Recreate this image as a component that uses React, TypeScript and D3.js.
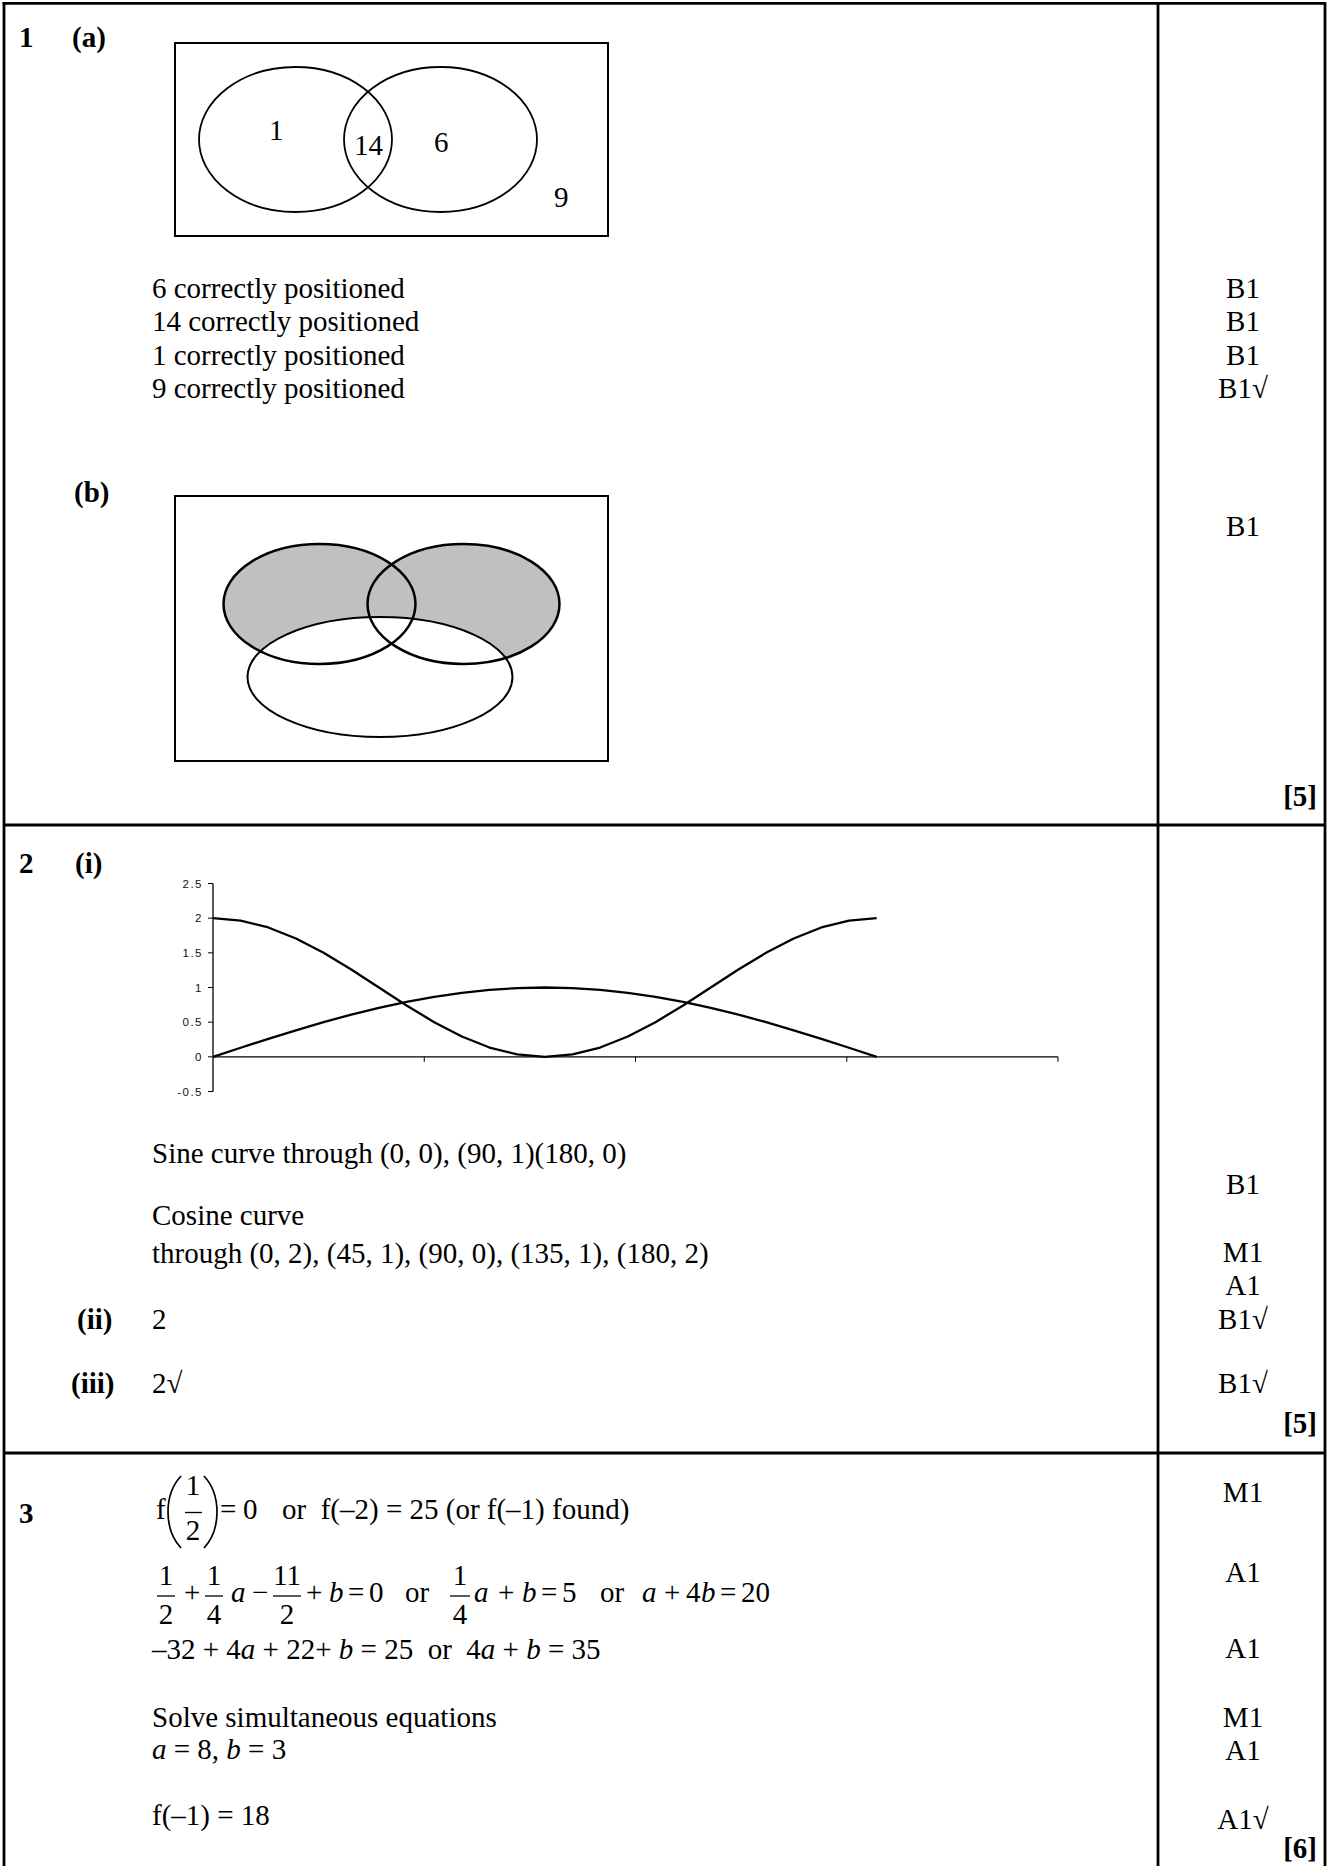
import React, { useEffect } from "react";
import * as d3 from "d3";

const SERIF = "'Liberation Serif', 'Times New Roman', Times, serif";
const SANS = "'Liberation Sans', Arial, Helvetica, sans-serif";

// ---------- Question 2 chart data (angles in degrees, plotted on a radian axis) ----------
const angleDeg = [0, 7.5, 15, 22.5, 30, 37.5, 45, 52.5, 60, 67.5, 75, 82.5, 90, 97.5, 105, 112.5, 120, 127.5, 135, 142.5, 150, 157.5, 165, 172.5, 180];
const sineValues = [0, 0.131, 0.259, 0.383, 0.5, 0.609, 0.707, 0.793, 0.866, 0.924, 0.966, 0.991, 1, 0.991, 0.966, 0.924, 0.866, 0.793, 0.707, 0.609, 0.5, 0.383, 0.259, 0.131, 0];
const cosineValues = [2, 1.966, 1.866, 1.707, 1.5, 1.259, 1, 0.741, 0.5, 0.293, 0.134, 0.034, 0, 0.034, 0.134, 0.293, 0.5, 0.741, 1, 1.259, 1.5, 1.707, 1.866, 1.966, 2];
const yTickValues = [2.5, 2, 1.5, 1, 0.5, 0, -0.5];
const yTickLabels = ["2.5", "2", "1.5", "1", "0.5", "0", "-0.5"];
const xTickRadians = [1, 2, 3, 4];

// ---------- Question 1 text ----------
const vennLabelsA = ["1", "14", "6", "9"];
const q1aLines = ["6 correctly positioned", "14 correctly positioned", "1 correctly positioned", "9 correctly positioned"];
const q1aMarks = ["B1", "B1", "B1", "B1\u221A"];
const q1bMarks = ["B1"];

// ---------- Question 2 text ----------
const q2Lines = ["Sine curve through (0, 0), (90, 1)(180, 0)", "Cosine curve", "through (0, 2), (45, 1), (90, 0), (135, 1), (180, 2)"];
const q2Marks = ["B1", "M1", "A1", "B1\u221A", "B1\u221A"];

// ---------- Question 3 marks ----------
const q3Marks = ["M1", "A1", "A1", "M1", "A1", "A1\u221A"];

// ---------- layout ----------
const MARK_X = 1243;
const vennLabelPosA = [
  [269, 140],
  [354, 155],
  [434, 152],
  [554, 207],
];
const q1aLineY = [298, 331, 365, 398];
const q2LineY = [1163, 1225, 1263];
const q2MarkY = [1194, 1262, 1295, 1329, 1393];
const q3MarkY = [1502, 1582, 1658, 1727, 1760, 1829];

type Piece = { k: "frac"; cx: number; w: number; n: string; d: string } | { k: "t" | "i"; x: number; s: string };
const line2: Piece[] = [
  { k: "frac", cx: 166, w: 18, n: "1", d: "2" },
  { k: "t", x: 184, s: "+" },
  { k: "frac", cx: 214, w: 18, n: "1", d: "4" },
  { k: "i", x: 231, s: "a" },
  { k: "t", x: 252, s: "\u2212" },
  { k: "frac", cx: 287, w: 28, n: "11", d: "2" },
  { k: "t", x: 306, s: "+" },
  { k: "i", x: 329, s: "b" },
  { k: "t", x: 348, s: "=" },
  { k: "t", x: 369, s: "0" },
  { k: "t", x: 405, s: "or" },
  { k: "frac", cx: 460, w: 20, n: "1", d: "4" },
  { k: "i", x: 474, s: "a" },
  { k: "t", x: 498, s: "+" },
  { k: "i", x: 522, s: "b" },
  { k: "t", x: 541, s: "=" },
  { k: "t", x: 562, s: "5" },
  { k: "t", x: 600, s: "or" },
  { k: "i", x: 642, s: "a" },
  { k: "t", x: 664, s: "+" },
  { k: "t", x: 686, s: "4" },
  { k: "i", x: 701, s: "b" },
  { k: "t", x: 720, s: "=" },
  { k: "t", x: 741, s: "20" },
];

export default function App() {
  useEffect(() => {
    document.body.style.margin = "0";
  }, []);

  const W = 1327;
  const H = 1866;

  // chart scales
  const xS = d3.scaleLinear().domain([0, 4]).range([213, 1058]);
  const yS = d3.scaleLinear().domain([-0.5, 2.5]).range([1091.5, 883.5]);
  const lineGen = d3
    .line<[number, number]>()
    .x((d) => xS((d[0] * Math.PI) / 180))
    .y((d) => yS(d[1]));
  const sinePath = lineGen(angleDeg.map((a, i) => [a, sineValues[i]] as [number, number])) || "";
  const cosPath = lineGen(angleDeg.map((a, i) => [a, cosineValues[i]] as [number, number])) || "";

  const bold = { fontWeight: 700 as const };
  const pre = { whiteSpace: "pre" as const };

  return (
    <svg
      width={W}
      height={H}
      viewBox={`0 0 ${W} ${H}`}
      style={{ position: "absolute", left: 0, top: 0, display: "block", background: "#fff" }}
      fontFamily={SERIF}
      fontSize={29}
    >
      <rect x={0} y={0} width={W} height={H} fill="#fff" />

      {/* table */}
      <g stroke="#000" strokeWidth={2.8} fill="none">
        <line x1={2.6} y1={3.4} x2={1326} y2={3.4} />
        <line x1={4} y1={2} x2={4} y2={H} />
        <line x1={1325} y1={2} x2={1325} y2={H} />
        <line x1={1158} y1={2} x2={1158} y2={H} />
        <line x1={4} y1={825} x2={1325} y2={825} />
        <line x1={4} y1={1453} x2={1325} y2={1453} />
      </g>

      {/* ============ Question 1 ============ */}
      <text x={19} y={47} style={bold}>1</text>
      <text x={72} y={47} style={bold}>(a)</text>

      <rect x={175} y={43} width={433} height={193} fill="none" stroke="#000" strokeWidth={2} />
      <ellipse cx={295.5} cy={139.5} rx={96.5} ry={72.5} fill="none" stroke="#000" strokeWidth={1.8} />
      <ellipse cx={440.5} cy={139.5} rx={96.5} ry={72.5} fill="none" stroke="#000" strokeWidth={1.8} />
      {vennLabelsA.map((t, i) => (
        <text key={"va" + i} x={vennLabelPosA[i][0]} y={vennLabelPosA[i][1]}>{t}</text>
      ))}

      {q1aLines.map((t, i) => (
        <text key={"l1" + i} x={152} y={q1aLineY[i]}>{t}</text>
      ))}
      {q1aMarks.map((t, i) => (
        <text key={"m1" + i} x={MARK_X} y={q1aLineY[i]} textAnchor="middle">{t}</text>
      ))}

      <text x={74} y={502} style={bold}>(b)</text>
      <text x={MARK_X} y={536} textAnchor="middle">{q1bMarks[0]}</text>

      <rect x={175} y={496} width={433} height={265} fill="none" stroke="#000" strokeWidth={2} />
      <ellipse cx={319.5} cy={604} rx={96} ry={60} fill="#c0c0c0" stroke="none" />
      <ellipse cx={463.5} cy={604} rx={96} ry={60} fill="#c0c0c0" stroke="none" />
      <ellipse cx={380} cy={677} rx={132.5} ry={60} fill="#fff" stroke="none" />
      <ellipse cx={319.5} cy={604} rx={96} ry={60} fill="none" stroke="#000" strokeWidth={2.5} />
      <ellipse cx={463.5} cy={604} rx={96} ry={60} fill="none" stroke="#000" strokeWidth={2.5} />
      <ellipse cx={380} cy={677} rx={132.5} ry={60} fill="none" stroke="#000" strokeWidth={2} />

      <text x={1317} y={806} textAnchor="end" style={bold}>[5]</text>

      {/* ============ Question 2 ============ */}
      <text x={19} y={873} style={bold}>2</text>
      <text x={75} y={873} style={bold}>(i)</text>

      {/* chart */}
      <g>
        <line x1={xS(0)} y1={yS(2.5)} x2={xS(0)} y2={yS(-0.5)} stroke="#000" strokeWidth={1.3} />
        <line x1={xS(0)} y1={yS(0)} x2={xS(4)} y2={yS(0)} stroke="#000" strokeWidth={1.3} />
        {yTickValues.map((v, i) => (
          <g key={"yt" + i}>
            <line x1={xS(0) - 5} y1={yS(v)} x2={xS(0)} y2={yS(v)} stroke="#000" strokeWidth={1} />
            <text
              x={xS(0) - 10}
              y={yS(v) + 4}
              textAnchor="end"
              fontFamily={SANS}
              fontSize={11.5}
              letterSpacing={1.5}
              fill="#111"
            >
              {yTickLabels[i]}
            </text>
          </g>
        ))}
        {xTickRadians.map((t, i) => (
          <line key={"xt" + i} x1={xS(t)} y1={yS(0)} x2={xS(t)} y2={yS(0) + 5} stroke="#000" strokeWidth={1} />
        ))}
        <path d={cosPath} fill="none" stroke="#000" strokeWidth={2.3} strokeLinejoin="round" />
        <path d={sinePath} fill="none" stroke="#000" strokeWidth={2.3} strokeLinejoin="round" />
      </g>

      {q2Lines.map((t, i) => (
        <text key={"l2" + i} x={152} y={q2LineY[i]}>{t}</text>
      ))}
      {q2Marks.map((t, i) => (
        <text key={"m2" + i} x={MARK_X} y={q2MarkY[i]} textAnchor="middle">{t}</text>
      ))}
      <text x={77} y={1329} style={bold}>(ii)</text>
      <text x={152} y={1329}>2</text>
      <text x={71} y={1393} style={bold}>(iii)</text>
      <text x={152} y={1393}>{"2\u221A"}</text>
      <text x={1317} y={1433} textAnchor="end" style={bold}>[5]</text>

      {/* ============ Question 3 ============ */}
      <text x={19} y={1523} style={bold}>3</text>

      {/* line 1: f(1/2) = 0 or ... */}
      <text x={156} y={1519}>f</text>
      <path d="M 181 1476 Q 168 1490 168 1512 Q 168 1534 181 1548" fill="none" stroke="#000" strokeWidth={1.7} />
      <text x={193} y={1495} textAnchor="middle">1</text>
      <line x1={185} y1={1512.5} x2={202} y2={1512.5} stroke="#000" strokeWidth={1.3} />
      <text x={193} y={1540} textAnchor="middle">2</text>
      <path d="M 204 1476 Q 217 1490 217 1512 Q 217 1534 204 1548" fill="none" stroke="#000" strokeWidth={1.7} />
      <text x={220} y={1519}>=</text>
      <text x={243} y={1519}>0</text>
      <text x={282} y={1519} style={pre}>{"or  f(\u20132) = 25 (or f(\u20131) found)"}</text>

      {/* line 2 with fractions */}
      {line2.map((p, i) =>
        p.k === "frac" ? (
          <g key={"f" + i}>
            <text x={p.cx} y={1585} textAnchor="middle">{p.n}</text>
            <line x1={p.cx - p.w / 2} y1={1596} x2={p.cx + p.w / 2} y2={1596} stroke="#000" strokeWidth={1.3} />
            <text x={p.cx} y={1624} textAnchor="middle">{p.d}</text>
          </g>
        ) : (
          <text key={"p" + i} x={p.x} y={1602} fontStyle={p.k === "i" ? "italic" : "normal"}>
            {p.s}
          </text>
        )
      )}

      {/* line 3 */}
      <text x={152} y={1659} style={pre}>
        {"\u201332 + 4"}
        <tspan fontStyle="italic">a</tspan>
        {" + 22+ "}
        <tspan fontStyle="italic">b</tspan>
        {" = 25  or  4"}
        <tspan fontStyle="italic">a</tspan>
        {" + "}
        <tspan fontStyle="italic">b</tspan>
        {" = 35"}
      </text>

      <text x={152} y={1727}>Solve simultaneous equations</text>
      <text x={152} y={1759} style={pre}>
        <tspan fontStyle="italic">a</tspan>
        {" = 8, "}
        <tspan fontStyle="italic">b</tspan>
        {" = 3"}
      </text>
      <text x={152} y={1825} style={pre}>{"f(\u20131) = 18"}</text>

      {q3Marks.map((t, i) => (
        <text key={"m3" + i} x={MARK_X} y={q3MarkY[i]} textAnchor="middle">{t}</text>
      ))}
      <text x={1317} y={1858} textAnchor="end" style={bold}>[6]</text>
    </svg>
  );
}
